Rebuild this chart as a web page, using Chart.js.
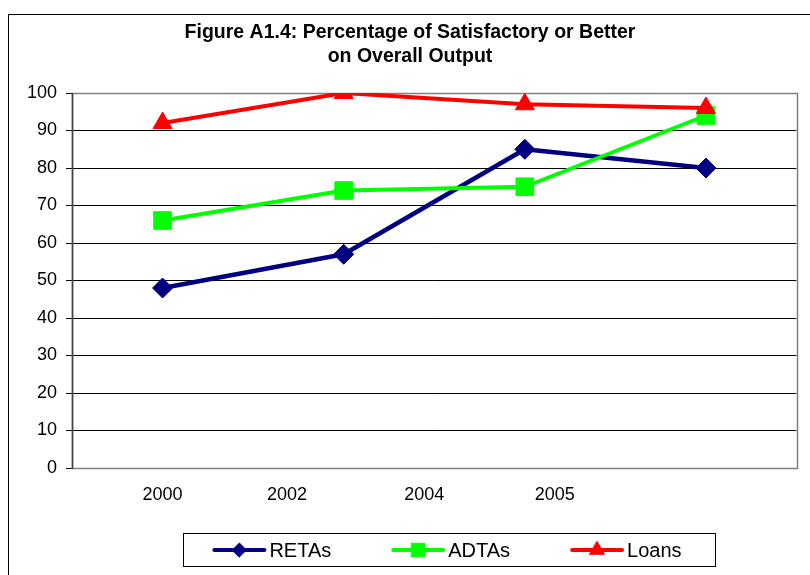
<!DOCTYPE html>
<html>
<head>
<meta charset="utf-8">
<script src="https://cdn.jsdelivr.net/npm/chart.js@4.4.0/dist/chart.umd.min.js"></script>
<style>
html, body { margin: 0; padding: 0; background: #fff; }
</style>
</head>
<body>
<canvas id="myChart" width="810" height="575"></canvas>
<script>
// category labels as printed under the axis (they do not line up with the points in the original)
var years = ['2000', '2002', '2004', '2005'];
var yearTickAt = [0, 0.687, 1.445, 2.165];
var slots = [0, 1, 2, 3];

// percentage satisfactory or better
var retas = [48, 57, 85, 80];
var adtas = [66, 74, 75, 94];
var loans = [92, 100, 97, 96];

var FONT = '"Liberation Sans", Arial, sans-serif';

function pairs(vals) {
    return vals.map(function (v, i) { return { x: slots[i], y: v }; });
}

// outer frame, plot frame and the boxed legend
var frames = {
    id: 'frames',
    beforeDatasetsDraw: function (chart) {
        var a = chart.chartArea, ctx = chart.ctx;
        ctx.save();
        ctx.strokeStyle = '#808080';
        ctx.lineWidth = 1.5;
        ctx.strokeRect(Math.round(a.left) + 0.5, Math.round(a.top) + 0.5,
            Math.round(a.right - a.left), Math.round(a.bottom - a.top));
        ctx.strokeStyle = '#404040';
        ctx.beginPath();
        ctx.moveTo(Math.round(a.left) + 0.5, a.top);
        ctx.lineTo(Math.round(a.left) + 0.5, a.bottom + 1);
        ctx.stroke();
        ctx.restore();
    },
    afterDraw: function (chart) {
        var ctx = chart.ctx;
        ctx.save();
        ctx.strokeStyle = '#000';
        ctx.lineWidth = 1;
        ctx.strokeRect(8.5, 14.5, 1000, 1000);
        ctx.strokeRect(183.5, 533.5, 532, 33);

        ctx.font = '20px ' + FONT;
        ctx.textBaseline = 'middle';
        var sets = chart.data.datasets;
        var widths = sets.map(function (d) { return 54 + 3 + ctx.measureText(d.label).width; });
        var gap = 60;
        var total = widths.reduce(function (s, w) { return s + w; }, 0) + gap * (sets.length - 1);
        var x = 447 - total / 2, y = 550;
        sets.forEach(function (d, i) {
            ctx.strokeStyle = d.borderColor;
            ctx.lineWidth = 4;
            ctx.lineCap = 'round';
            ctx.beginPath();
            ctx.moveTo(x + 2, y);
            ctx.lineTo(x + 52, y);
            ctx.stroke();
            ctx.fillStyle = d.borderColor;
            ctx.lineWidth = 1;
            Chart.helpers.drawPoint(ctx, { pointStyle: d.pointStyle, radius: d.legendRadius, borderWidth: 1, rotation: 0 }, x + 27, y);
            ctx.fillStyle = '#000';
            ctx.fillText(d.label, x + 57, y + 1);
            x += widths[i] + gap;
        });
        ctx.restore();
    }
};

var ctx = document.getElementById('myChart').getContext('2d');
var chart = new Chart(ctx, {
    type: 'line',
    data: {
        datasets: [{
            label: 'RETAs',
            data: pairs(retas),
            borderColor: '#000080',
            backgroundColor: '#000080',
            borderWidth: 4.5,
            pointStyle: 'rectRot',
            pointRadius: 10,
            legendRadius: 7,
            order: 3
        }, {
            label: 'ADTAs',
            data: pairs(adtas),
            borderColor: '#00FF00',
            backgroundColor: '#00FF00',
            pointStyle: 'rect',
            pointRadius: 12.5,
            legendRadius: 9.5,
            order: 2
        }, {
            label: 'Loans',
            data: pairs(loans),
            borderColor: '#FF0000',
            backgroundColor: '#FF0000',
            pointStyle: 'triangle',
            pointRadius: 11,
            legendRadius: 8.5,
            order: 1
        }]
    },
    options: {
        responsive: false,
        animation: false,
        events: [],
        datasets: {
            line: {
                borderWidth: 4,
                borderJoinStyle: 'round',
                pointBorderWidth: 1,
                tension: 0
            }
        },
        layout: { padding: { left: 20, right: 10, top: 0, bottom: 0 } },
        plugins: {
            legend: { display: false },
            tooltip: { enabled: false },
            title: {
                display: true,
                text: ['Figure A1.4: Percentage of Satisfactory or Better', 'on Overall Output'],
                color: '#000',
                font: { family: FONT, size: 19.5, weight: 'bold', lineHeight: 1.2 },
                padding: { top: 21.3, bottom: 24.9 }
            }
        },
        scales: {
            x: {
                type: 'linear',
                min: -0.5,
                max: 3.5,
                grid: { display: false, drawTicks: false },
                border: { display: false },
                afterBuildTicks: function (scale) {
                    scale.ticks = yearTickAt.map(function (v) { return { value: v }; });
                },
                afterFit: function (scale) {
                    scale.height = 107;
                    scale.paddingLeft = 0;
                    scale.paddingRight = 0;
                },
                ticks: {
                    color: '#000',
                    padding: 16,
                    maxRotation: 0,
                    autoSkip: false,
                    font: { family: FONT, size: 18 },
                    callback: function (value) {
                        var i = yearTickAt.indexOf(value);
                        return i < 0 ? '' : years[i];
                    }
                }
            },
            y: {
                min: 0,
                max: 100,
                afterFit: function (scale) { scale.width = 52; },
                grid: {
                    color: function (c) { return (c.tick.value === 100 || c.tick.value === 0) ? '#808080' : '#000'; },
                    lineWidth: 1,
                    tickLength: 6,
                    tickColor: '#000'
                },
                border: { display: false },
                ticks: {
                    stepSize: 10,
                    color: '#000',
                    padding: 9,
                    font: { family: FONT, size: 18 }
                }
            }
        }
    },
    plugins: [frames]
});
</script>
</body>
</html>
